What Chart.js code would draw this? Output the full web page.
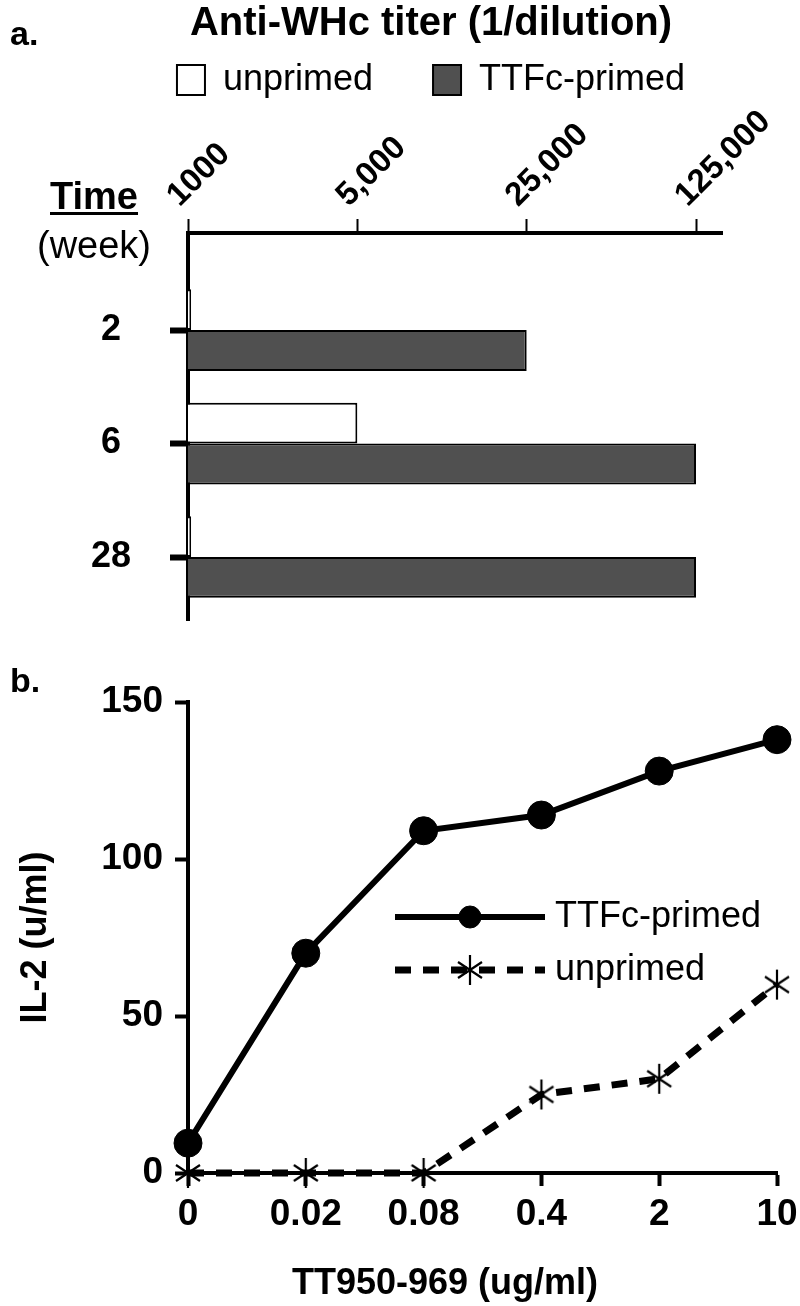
<!DOCTYPE html>
<html>
<head>
<meta charset="utf-8">
<script src="https://cdn.jsdelivr.net/npm/chart.js@4/dist/chart.umd.min.js"></script>
<style>
  body { margin: 0; background: #fff; width: 800px; height: 1306px; position: relative; overflow: hidden;
         font-family: 'Liberation Sans', Arial, sans-serif; color: #000; }
  .txt { position: absolute; line-height: 1; white-space: nowrap; }
  #titerChart { position: absolute; left: 0; top: 0; }
  #il2Chart { position: absolute; left: 0; top: 640px; }
</style>
</head>
<body>
<canvas id="titerChart" width="800" height="640"></canvas>
<canvas id="il2Chart" width="800" height="666"></canvas>
<div class="txt" style="left:10px;top:16px;font-size:34px;font-weight:bold">a.</div>
<div class="txt" style="left:50px;top:177px;font-size:38px;font-weight:bold;text-decoration:underline;text-decoration-thickness:3px;text-underline-offset:3px">Time</div>
<div class="txt" style="left:37px;top:226px;font-size:38px">(week)</div>
<div class="txt" style="left:10px;top:663px;font-size:34px;font-weight:bold">b.</div>
<div class="txt" style="left:292px;top:1264px;font-size:36px;font-weight:bold">TT950-969 (ug/ml)</div>
<script>
Chart.defaults.font.family = "'Liberation Sans', Arial, sans-serif"
Chart.defaults.color = '#000'

// panel a - antibody titer by week
const weeks = ['2', '6', '28']
const weekPos = [1, 2, 3]
const unprimedTiter = [1030, 5000, 1030]
const primedTiter = [25000, 125000, 125000]
const titerTicks = [1000, 5000, 25000, 125000]
const titerTickLabels = ['1000', '5,000', '25,000', '125,000']

// panel b - IL-2 response to peptide dose
const doses = ['0', '0.02', '0.08', '0.4', '2', '10']
const primedIL2 = [9.5, 70, 109, 114, 128, 138]
const unprimedIL2 = [0, 0, 0, 25, 30, 60]
const il2Ticks = [0, 50, 100, 150]

// six-armed asterisk used as the unprimed marker
function makeAsterisk() {
    const c = document.createElement('canvas')
    c.width = 30
    c.height = 32
    const g = c.getContext('2d')
    g.strokeStyle = '#000'
    g.lineWidth = 2.2
    g.beginPath()
    g.moveTo(15, 1); g.lineTo(15, 31)
    g.moveTo(3, 8); g.lineTo(27, 24)
    g.moveTo(3, 24); g.lineTo(27, 8)
    g.stroke()
    return c
}
const asterisk = makeAsterisk()

// legend drawn as line + marker, like the original figure
const lineLegend = {
    id: 'lineLegend',
    afterDatasetsDraw(chart, args, opts) {
        const ctx = chart.ctx
        chart.data.datasets.forEach((ds, i) => {
            const y = opts.y + i * opts.rowGap
            ctx.save()
            ctx.strokeStyle = ds.borderColor
            ctx.lineWidth = ds.borderWidth
            ctx.setLineDash(ds.borderDash || [])
            ctx.beginPath()
            ctx.moveTo(opts.x, y)
            ctx.lineTo(opts.x + opts.length, y)
            ctx.stroke()
            ctx.setLineDash([])
            ctx.fillStyle = '#000'
            ctx.strokeStyle = '#000'
            ctx.lineWidth = 1
            Chart.helpers.drawPoint(ctx, { pointStyle: ds.pointStyle, radius: opts.pointRadius, borderWidth: 1, rotation: 0 },
                opts.x + opts.length / 2, y)
            ctx.font = opts.font
            ctx.textBaseline = 'middle'
            ctx.textAlign = 'left'
            ctx.fillText(ds.label, opts.x + opts.length + opts.textGap, y)
            ctx.restore()
        })
    }
}

new Chart(document.getElementById('titerChart'), {
    type: 'bar',
    data: {
        datasets: [
            {
                label: 'unprimed',
                data: weekPos.map((p, i) => ({ x: unprimedTiter[i], y: p })),
                backgroundColor: '#ffffff',
                borderColor: '#000',
                borderWidth: 2,
            },
            {
                label: 'TTFc-primed',
                data: weekPos.map((p, i) => ({ x: primedTiter[i], y: p })),
                backgroundColor: '#505050',
                borderColor: '#000',
                borderWidth: 2,
            }
        ]
    },
    options: {
        indexAxis: 'y',
        responsive: false,
        animation: false,
        categoryPercentage: 0.72,
        barPercentage: 1,
        layout: { padding: { left: 62, right: 0, top: 0, bottom: 20 } },
        plugins: {
            title: {
                display: true,
                text: 'Anti-WHc titer (1/dilution)',
                color: '#000',
                font: { size: 40, weight: 'bold' },
                padding: { top: 0, bottom: -46 }
            },
            legend: {
                labels: { boxWidth: 28, boxHeight: 30, padding: 60, color: '#000', font: { size: 36 } }
            },
            tooltip: { enabled: false }
        },
        scales: {
            x: {
                type: 'logarithmic',
                position: 'top',
                min: 1000,
                max: 160000,
                afterBuildTicks: s => { s.ticks = titerTicks.map(v => ({ value: v })) },
                afterFit: s => { s.height = 125; s.paddingRight = 78; s.paddingLeft = 0 },
                ticks: {
                    callback: (v, i) => titerTickLabels[i],
                    minRotation: 45,
                    maxRotation: 45,
                    autoSkip: false,
                    labelOffset: 13,
                    color: '#000',
                    font: { size: 33, weight: 'bold' },
                    padding: 4
                },
                grid: { drawOnChartArea: false, tickLength: 14, tickWidth: 2, tickColor: '#000' },
                border: { color: '#000', width: 4 }
            },
            y: {
                type: 'linear',
                reverse: true,
                offset: false,
                min: 0.145,
                max: 3.555,
                afterBuildTicks: s => { s.ticks = weekPos.map(v => ({ value: v })) },
                afterFit: s => { s.width = 126; s.paddingTop = 0; s.paddingBottom = 0 },
                ticks: {
                    callback: (v, i) => weeks[i],
                    crossAlign: 'center',
                    padding: 39,
                    color: '#000',
                    font: { size: 36, weight: 'bold' }
                },
                grid: { offset: false, drawOnChartArea: false, tickLength: 18, tickWidth: 6, tickColor: '#000' },
                border: { color: '#000', width: 4 }
            }
        }
    }
})

new Chart(document.getElementById('il2Chart'), {
    type: 'line',
    data: {
        labels: doses,
        datasets: [
            {
                label: 'TTFc-primed',
                data: primedIL2,
                borderColor: '#000',
                backgroundColor: '#000',
                borderWidth: 6,
                pointStyle: 'circle',
                pointRadius: 14,
                pointBackgroundColor: '#000',
                pointBorderColor: '#000',
                pointBorderWidth: 1,
                clip: false
            },
            {
                label: 'unprimed',
                data: unprimedIL2,
                borderColor: '#000',
                backgroundColor: '#000',
                borderWidth: 7,
                borderDash: [16, 12],
                pointStyle: asterisk,
                clip: false
            }
        ]
    },
    plugins: [lineLegend],
    options: {
        responsive: false,
        animation: false,
        layout: { padding: { left: 0, right: 23, top: 62, bottom: 0 } },
        plugins: {
            legend: { display: false },
            tooltip: { enabled: false },
            lineLegend: { x: 395, y: 277, rowGap: 53, length: 150, pointRadius: 11, textGap: 10,
                font: "36px 'Liberation Sans', Arial, sans-serif" }
        },
        scales: {
            x: {
                offset: false,
                afterFit: s => { s.height = 133; s.paddingLeft = 0; s.paddingRight = 0 },
                ticks: { color: '#000', font: { size: 37, weight: 'bold' }, padding: 7, maxRotation: 0, autoSkip: false },
                grid: { drawOnChartArea: false, tickLength: 13, tickWidth: 4, tickColor: '#000' },
                border: { color: '#000', width: 4 }
            },
            y: {
                min: 0,
                max: 150,
                afterBuildTicks: s => { s.ticks = il2Ticks.map(v => ({ value: v })) },
                afterFit: s => { s.width = 188; s.paddingTop = 0; s.paddingBottom = 0 },
                ticks: { color: '#000', font: { size: 37, weight: 'bold' }, padding: 12 },
                grid: { drawOnChartArea: false, tickLength: 13, tickWidth: 4, tickColor: '#000' },
                border: { color: '#000', width: 4 },
                title: {
                    display: true,
                    text: 'IL-2 (u/ml)',
                    color: '#000',
                    font: { size: 36, weight: 'bold' },
                    padding: { top: 14, bottom: 0 }
                }
            }
        }
    }
})
</script>
</body>
</html>
